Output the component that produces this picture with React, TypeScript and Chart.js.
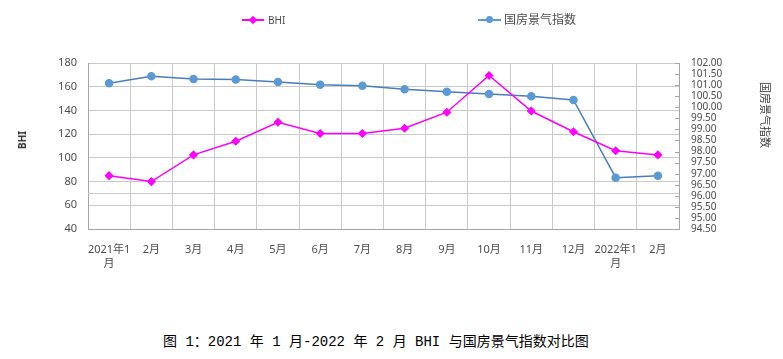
import React, { useEffect, useRef } from 'react';
import { Chart, registerables } from 'chart.js';

Chart.register(...registerables);

const categories: (string | string[])[] = [
  ['2021年1', '月'], '2月', '3月', '4月', '5月', '6月', '7月', '8月', '9月', '10月', '11月', '12月', ['2022年1', '月'], '2月',
];
const bhiValues = [85, 80, 102.5, 114, 130, 120.5, 120.5, 125, 138.5, 169.5, 139.5, 122, 106, 102.5];
const indexValues = [101.08, 101.40, 101.28, 101.25, 101.14, 101.02, 100.97, 100.81, 100.70, 100.60, 100.50, 100.33, 96.82, 96.91];
const extraGridValue = 70;
const bhiName = 'BHI';
const indexName = '国房景气指数';
const caption = '图 1：2021 年 1 月-2022 年 2 月 BHI 与国房景气指数对比图';

const W = 783;
const CH = 300;
const PLOT_LEFT = 88;
const PLOT_RIGHT = 679;
const PLOT_TOP = 63;
const PLOT_BOTTOM = 229;

const GRID = '#cacaca';
const AXIS = '#a6a6a6';
const TICK = '#4d4d4d';
const FONT = '"Noto Sans", "Noto Sans CJK SC", sans-serif';

const extras = {
  id: 'extras',
  beforeDatasetsDraw(chart: any) {
    const ctx = chart.ctx;
    const y = chart.scales.y;
    const py = Math.round(y.getPixelForValue(extraGridValue)) + 0.5;
    ctx.save();
    ctx.strokeStyle = GRID;
    ctx.lineWidth = 1;
    ctx.beginPath();
    ctx.moveTo(chart.chartArea.left, py);
    ctx.lineTo(chart.chartArea.right, py);
    ctx.stroke();
    ctx.restore();
  },
  afterDraw(chart: any) {
    const s = chart.scales.y1;
    const ctx = chart.ctx;
    ctx.save();
    ctx.strokeStyle = AXIS;
    ctx.lineWidth = 1;
    s.ticks.forEach((t: any) => {
      const y = Math.round(s.getPixelForValue(t.value)) + 0.5;
      ctx.beginPath();
      ctx.moveTo(s.left - 4, y);
      ctx.lineTo(s.left, y);
      ctx.stroke();
    });
    ctx.restore();
  },
};

export default function App() {
  const ref = useRef<HTMLCanvasElement | null>(null);
  useEffect(() => {
    if (!ref.current) return;
    const chart = new Chart(ref.current, {
      type: 'line',
      data: {
        labels: categories as any,
        datasets: [
          {
            label: bhiName,
            data: bhiValues,
            yAxisID: 'y',
            borderColor: '#FF00FF',
            backgroundColor: '#FF00FF',
            pointBackgroundColor: '#FF00FF',
            pointBorderColor: '#FF00FF',
            pointStyle: 'rectRot',
            pointRadius: 3.5,
            borderWidth: 1.5,
          },
          {
            label: indexName,
            data: indexValues,
            yAxisID: 'y1',
            borderColor: '#4A7EBB',
            backgroundColor: '#5B9BD5',
            pointBackgroundColor: '#5B9BD5',
            pointBorderColor: '#5B9BD5',
            pointStyle: 'circle',
            pointRadius: 3.5,
            borderWidth: 1.5,
          },
        ],
      },
      options: {
        responsive: false,
        animation: false,
        devicePixelRatio: 1,
        layout: { padding: { top: PLOT_TOP, left: 0, right: 0, bottom: 0 } },
        plugins: { legend: { display: false }, tooltip: { enabled: false }, title: { display: false } },
        scales: {
          x: {
            type: 'category',
            offset: true,
            grid: { offset: true, color: GRID, drawTicks: false },
            border: { color: AXIS },
            ticks: {
              color: TICK,
              font: { family: FONT, size: 11, lineHeight: 1.25 },
              padding: 14,
              maxRotation: 0,
              autoSkip: false,
            },
            afterFit: (s: any) => { s.height = CH - PLOT_BOTTOM; },
          },
          y: {
            type: 'linear',
            position: 'left',
            min: 40,
            max: 180,
            grid: { color: GRID, drawTicks: false },
            border: { color: AXIS },
            ticks: {
              stepSize: 20,
              color: TICK,
              font: { family: FONT, size: 11 },
              padding: 11,
            },
            afterFit: (s: any) => { s.width = PLOT_LEFT; },
          },
          y1: {
            type: 'linear',
            position: 'right',
            min: 94.5,
            max: 102,
            grid: { drawOnChartArea: false, drawTicks: false },
            border: { color: AXIS },
            ticks: {
              stepSize: 0.5,
              autoSkip: false,
              color: TICK,
              font: { family: FONT, size: 10 },
              padding: 12,
              callback: (v: any) => Number(v).toFixed(2),
            },
            afterFit: (s: any) => { s.width = W - PLOT_RIGHT; },
          },
        },
      },
      plugins: [extras],
    });
    return () => chart.destroy();
  }, []);

  const abs = (o: React.CSSProperties): React.CSSProperties => ({ position: 'absolute', ...o });

  return (
    <div style={abs({ left: 0, top: 0, width: W, height: 359, background: '#fff', overflow: 'hidden' })}>
      <canvas ref={ref} width={W} height={CH} style={abs({ left: 0, top: 0, width: W, height: CH })} />
      {/* legend */}
      <div style={abs({ left: 242, top: 19, width: 22, height: 2, background: '#FF00FF' })} />
      <div style={abs({ left: 250, top: 17, width: 6, height: 6, background: '#FF00FF', transform: 'rotate(45deg)' })} />
      <div style={abs({ left: 268, top: 12, fontFamily: FONT, fontSize: 10, color: TICK, lineHeight: '16px', whiteSpace: 'nowrap' })}>{bhiName}</div>
      <div style={abs({ left: 478, top: 19, width: 23, height: 2, background: '#5B9BD5' })} />
      <div style={abs({ left: 486, top: 16, width: 7, height: 7, borderRadius: '50%', background: '#5B9BD5' })} />
      <div style={abs({ left: 504, top: 12, fontFamily: FONT, fontSize: 12, color: TICK, lineHeight: '16px', whiteSpace: 'nowrap' })}>{indexName}</div>
      {/* axis titles */}
      <div style={abs({ left: 22, top: 140, fontFamily: FONT, fontSize: 10, fontWeight: 'bold', color: '#333', whiteSpace: 'nowrap', transform: 'translate(-50%, -50%) rotate(-90deg)', lineHeight: '12px' })}>{bhiName}</div>
      <div style={abs({ left: 765, top: 115, fontFamily: FONT, fontSize: 11, color: '#404040', whiteSpace: 'nowrap', transform: 'translate(-50%, -50%) rotate(90deg)', lineHeight: '12px' })}>{indexName}</div>
      {/* caption */}
      <div style={abs({ left: 163, top: 333, fontFamily: '"Liberation Mono", "Noto Sans CJK SC", monospace', fontSize: 14, color: '#000', whiteSpace: 'pre', lineHeight: '18px' })}>{caption}</div>
    </div>
  );
}
